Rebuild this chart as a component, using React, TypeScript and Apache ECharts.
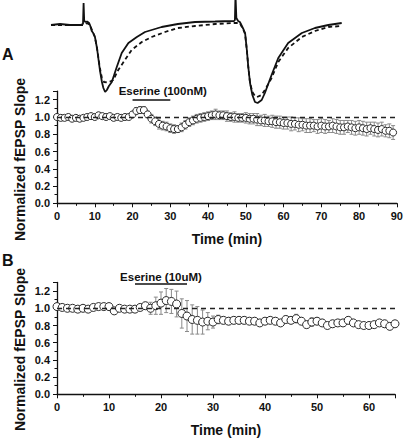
import React, { useEffect, useRef } from "react";
import * as echarts from "echarts";

// ---- Sample fEPSP traces (time in ms-like units, amplitude in mV-like units)
const traceControl: number[][] = [
  [0, 0.0], [3.1, 0.01], [6.5, 0.0], [10.0, 0.0], [11.0, 0.01], [11.2, 0.22], [11.4, 0.05],
  [11.7, 0.03], [12.4, 0.035], [13.1, 0.02], [13.4, 0.0], [14.0, -0.06], [14.5, -0.08],
  [15.1, -0.12], [15.8, -0.23], [16.8, -0.45], [17.5, -0.57], [18.0, -0.63], [18.6, -0.67],
  [19.2, -0.65], [19.9, -0.61], [20.9, -0.57], [22.6, -0.42], [24.3, -0.28], [26.6, -0.18],
  [29.5, -0.12], [32.3, -0.07], [38.0, -0.02], [43.6, 0.01], [49.5, 0.03], [56.4, 0.035],
  [62.9, 0.04], [63.2, 0.05], [63.4, 0.3], [63.7, 0.07], [64.3, 0.04], [64.9, 0.03],
  [66.1, -0.04], [66.7, -0.08], [67.3, -0.25], [67.8, -0.42], [68.4, -0.58], [69.2, -0.7],
  [70.1, -0.77], [71.0, -0.78], [72.4, -0.75], [73.5, -0.68], [75.8, -0.5], [78.1, -0.33],
  [81.5, -0.18], [86.2, -0.08], [90.7, -0.03], [95.3, 0.0], [99.9, 0.02],
];
const traceEserine: number[][] = [
  [0, 0.0], [11.0, 0.0], [12.4, 0.02], [13.4, 0.0], [14.5, -0.08], [15.1, -0.12],
  [15.8, -0.23], [16.8, -0.43], [17.5, -0.53], [18.2, -0.57], [19.2, -0.575], [20.3, -0.565],
  [21.4, -0.55], [23.1, -0.45], [25.4, -0.35], [27.7, -0.25], [31.2, -0.17], [34.6, -0.12],
  [39.2, -0.07], [43.6, -0.03], [49.5, -0.01], [56.4, 0.01], [62.9, 0.02], [64.9, 0.02],
  [66.1, -0.05], [66.7, -0.09], [67.3, -0.25], [67.8, -0.42], [68.4, -0.58], [69.2, -0.67],
  [70.1, -0.71], [70.8, -0.72], [72.4, -0.7], [73.5, -0.65], [75.8, -0.53], [78.1, -0.37],
  [81.5, -0.23], [86.2, -0.12], [90.7, -0.06], [95.3, -0.02], [99.9, -0.01],
];

// ---- Panel A: Eserine 100 nM (one point per minute)
const slopeA: number[] = [
  1.0, 0.99, 0.99, 1.0, 0.98, 0.99, 0.98, 0.99, 1.0, 1.01,
  1.0, 1.02, 1.01, 1.0, 1.01, 0.99, 1.0, 0.99, 1.0, 1.0,
  1.03, 1.07, 1.08, 1.08, 1.03, 0.98, 0.95, 0.92, 0.9, 0.89,
  0.87, 0.86, 0.86, 0.88, 0.91, 0.94, 0.96, 0.98, 0.99, 1.0,
  1.01, 1.02, 1.03, 1.02, 1.02, 1.01, 1.0, 1.0, 0.99, 0.99,
  0.99, 0.98, 0.98, 0.97, 0.96, 0.96, 0.95, 0.95, 0.94, 0.94,
  0.93, 0.93, 0.92, 0.92, 0.91, 0.91, 0.9, 0.9, 0.9, 0.89,
  0.9, 0.89, 0.89, 0.9, 0.89, 0.88, 0.88, 0.89, 0.88, 0.87,
  0.88, 0.87, 0.86, 0.87, 0.86, 0.85, 0.86, 0.84, 0.84, 0.82,
];
const errA: number[] = [
  0.02, 0.02, 0.02, 0.02, 0.03, 0.02, 0.02, 0.02, 0.03, 0.02,
  0.02, 0.03, 0.02, 0.02, 0.02, 0.02, 0.03, 0.02, 0.02, 0.02,
  0.03, 0.04, 0.04, 0.04, 0.04, 0.05, 0.05, 0.06, 0.05, 0.05,
  0.05, 0.05, 0.04, 0.05, 0.05, 0.05, 0.05, 0.05, 0.05, 0.05,
  0.05, 0.05, 0.06, 0.05, 0.05, 0.06, 0.05, 0.06, 0.05, 0.05,
  0.06, 0.06, 0.06, 0.07, 0.06, 0.07, 0.06, 0.07, 0.07, 0.07,
  0.07, 0.07, 0.08, 0.07, 0.08, 0.07, 0.08, 0.08, 0.07, 0.08,
  0.08, 0.08, 0.07, 0.08, 0.08, 0.08, 0.08, 0.07, 0.08, 0.08,
  0.08, 0.08, 0.08, 0.07, 0.08, 0.08, 0.08, 0.07, 0.08, 0.08,
];

// ---- Panel B: Eserine 10 uM
const slopeB: number[] = [
  1.02, 1.01, 1.0, 1.0, 0.99, 1.0, 0.99, 1.01, 1.02, 1.02,
  1.02, 0.97, 1.0, 0.99, 0.99, 0.99, 1.01, 1.03, 1.0, 1.03,
  1.06, 1.09, 1.08, 1.05, 0.94, 0.91, 0.87, 0.86, 0.84, 0.85,
  0.84, 0.87, 0.86, 0.85, 0.86, 0.86, 0.86, 0.85, 0.85, 0.83,
  0.85, 0.86, 0.85, 0.83, 0.87, 0.86, 0.88, 0.85, 0.81, 0.84,
  0.85, 0.83, 0.8, 0.82, 0.83, 0.83, 0.86, 0.83, 0.81, 0.8,
  0.8, 0.81, 0.83, 0.82, 0.79, 0.82,
];
const errB: number[] = [
  0.02, 0.02, 0.02, 0.02, 0.02, 0.02, 0.02, 0.02, 0.02, 0.02,
  0.02, 0.02, 0.02, 0.02, 0.02, 0.02, 0.03, 0.04, 0.07, 0.1,
  0.13, 0.14, 0.14, 0.15, 0.17, 0.18, 0.17, 0.16, 0.14, 0.1,
  0.07, 0.05, 0.04, 0.04, 0.04, 0.04, 0.04, 0.03, 0.04, 0.03,
  0.03, 0.03, 0.04, 0.03, 0.04, 0.03, 0.05, 0.04, 0.04, 0.05,
  0.04, 0.04, 0.03, 0.04, 0.03, 0.03, 0.04, 0.03, 0.03, 0.03,
  0.03, 0.03, 0.03, 0.04, 0.03, 0.03,
];

// ---- Annotations
const drugA = { label: "Eserine (100nM)", start: 20, end: 30, level: 1.2, labelAt: 28 };
const drugB = { label: "Eserine (10uM)", start: 15, end: 25, level: 1.28, labelAt: 20 };
const baselineLevel = 1.0;
const yTickLabels = ["0.0", "0.2", "0.4", "0.6", "0.8", "1.0", "1.2"];

const FONT = '"Liberation Sans", Arial, Helvetica, sans-serif';

function errorRender(params: any, api: any) {
  const x = api.value(0);
  const y = api.value(1);
  const e = api.value(2);
  const top = api.coord([x, y + e]);
  const bot = api.coord([x, y - e]);
  const half = 2;
  const style = { stroke: "#8a8a8a", lineWidth: 1 };
  return {
    type: "group",
    children: [
      { type: "line", shape: { x1: top[0], y1: top[1], x2: bot[0], y2: bot[1] }, style },
      { type: "line", shape: { x1: top[0] - half, y1: top[1], x2: top[0] + half, y2: top[1] }, style },
      { type: "line", shape: { x1: bot[0] - half, y1: bot[1], x2: bot[0] + half, y2: bot[1] }, style },
    ],
  };
}

function xAxisFor(gridIndex: number, max: number, nameGap: number) {
  return {
    type: "value",
    gridIndex,
    min: 0,
    max,
    interval: 10,
    name: "Time (min)",
    nameLocation: "middle",
    nameGap,
    nameTextStyle: { fontFamily: FONT, fontWeight: "bold", fontSize: 14, color: "#111" },
    axisLine: { show: true, onZero: false, lineStyle: { color: "#111", width: 1.3 } },
    axisTick: { show: true, inside: false, length: 4, lineStyle: { color: "#111", width: 1 } },
    minorTick: { show: true, splitNumber: 2, length: 2.5, lineStyle: { color: "#111", width: 1 } },
    splitLine: { show: false },
    axisLabel: {
      fontFamily: FONT,
      fontWeight: "bold",
      fontSize: 11,
      color: "#111",
      margin: 7,
      formatter: (v: number) => (v % 10 === 0 ? String(v) : ""),
    },
  };
}

function yAxisFor(gridIndex: number) {
  return {
    type: "value",
    gridIndex,
    min: 0,
    max: 1.3,
    interval: 0.2,
    axisLine: { show: true, onZero: false, lineStyle: { color: "#111", width: 1.3 } },
    axisTick: { show: true, inside: false, length: 4, lineStyle: { color: "#111", width: 1 } },
    minorTick: { show: true, splitNumber: 2, length: 2.5, lineStyle: { color: "#111", width: 1 } },
    splitLine: { show: false },
    axisLabel: {
      fontFamily: FONT,
      fontWeight: "bold",
      fontSize: 11,
      color: "#111",
      margin: 7,
      formatter: (v: number) => {
        const idx = Math.round(v / 0.2);
        return Math.abs(idx * 0.2 - v) < 1e-6 && idx < yTickLabels.length ? yTickLabels[idx] : "";
      },
    },
  };
}

function panelSeries(
  idx: number,
  slope: number[],
  err: number[],
  drug: { label: string; start: number; end: number; level: number; labelAt: number },
  symbolSize: number,
  labelOffset: number
) {
  const pts = slope.map((v, i) => [i, v]);
  const bars = slope.map((v, i) => [i, v, err[i]]);
  return [
    {
      type: "custom",
      xAxisIndex: idx,
      yAxisIndex: idx,
      renderItem: errorRender,
      data: bars,
      z: 2,
      silent: true,
      markLine: {
        silent: true,
        symbol: ["none", "none"],
        label: { show: false },
        lineStyle: { color: "#222", width: 1.4, type: [5, 4] },
        data: [{ yAxis: baselineLevel }],
      },
    },
    {
      type: "scatter",
      xAxisIndex: idx,
      yAxisIndex: idx,
      data: pts,
      symbol: "circle",
      symbolSize,
      z: 3,
      itemStyle: { color: "#fff", borderColor: "#2a2a2a", borderWidth: 1, opacity: 1 },
      markLine: {
        silent: true,
        symbol: ["none", "none"],
        label: { show: false },
        lineStyle: { color: "#111", width: 1.6, type: "solid" },
        data: [[{ coord: [drug.start, drug.level] }, { coord: [drug.end, drug.level] }]],
      },
      markPoint: {
        silent: true,
        symbol: "circle",
        symbolSize: 0,
        data: [{ coord: [drug.labelAt, drug.level] }],
        label: {
          show: true,
          position: "inside",
          offset: [0, labelOffset],
          formatter: drug.label,
          fontFamily: FONT,
          fontWeight: "bold",
          fontSize: 11.5,
          color: "#111",
        },
      },
    },
  ];
}

export default function App() {
  const ref = useRef<HTMLDivElement>(null);
  useEffect(() => {
    if (!ref.current) return;
    const chart = echarts.init(ref.current, undefined, { renderer: "svg" });
    const option: any = {
      animation: false,
      backgroundColor: "#ffffff",
      grid: [
        { left: 57, top: 91.1, width: 342, height: 112.2 },
        { left: 57, top: 282.5, width: 338, height: 111.8 },
        { left: 51, top: 0, width: 291, height: 105 },
      ],
      xAxis: [
        xAxisFor(0, 90, 29),
        xAxisFor(1, 65, 29),
        { type: "value", gridIndex: 2, min: 0, max: 100, show: false },
      ],
      yAxis: [
        yAxisFor(0),
        yAxisFor(1),
        { type: "value", gridIndex: 2, min: -0.8, max: 0.25, show: false },
      ],
      graphic: [
        {
          type: "text",
          left: 2,
          top: 46,
          style: { text: "A", font: `bold 16px ${FONT}`, fill: "#111" },
        },
        {
          type: "text",
          left: 2,
          top: 252,
          style: { text: "B", font: `bold 16px ${FONT}`, fill: "#111" },
        },
        {
          type: "text",
          x: 20,
          y: 159.5,
          rotation: Math.PI / 2,
          style: {
            text: "Normalized fEPSP Slope",
            font: `bold 14px ${FONT}`,
            fill: "#111",
            align: "center",
            verticalAlign: "middle",
          },
        },
        {
          type: "text",
          x: 20,
          y: 349.5,
          rotation: Math.PI / 2,
          style: {
            text: "Normalized fEPSP Slope",
            font: `bold 14px ${FONT}`,
            fill: "#111",
            align: "center",
            verticalAlign: "middle",
          },
        },
      ],
      series: [
        {
          type: "line",
          xAxisIndex: 2,
          yAxisIndex: 2,
          data: traceEserine,
          showSymbol: false,
          symbol: "none",
          silent: true,
          z: 4,
          lineStyle: { color: "#111", width: 1.8, type: [4, 3] },
        },
        {
          type: "line",
          xAxisIndex: 2,
          yAxisIndex: 2,
          data: traceControl,
          showSymbol: false,
          symbol: "none",
          silent: true,
          z: 5,
          lineStyle: { color: "#111", width: 1.8 },
        },
        ...panelSeries(0, slopeA, errA, drugA, 7, -9),
        ...panelSeries(1, slopeB, errB, drugB, 8, -7.5),
      ],
    };
    chart.setOption(option);
    return () => chart.dispose();
  }, []);
  return (
    <div
      ref={ref}
      style={{ position: "absolute", left: 0, top: 0, width: 406, height: 440, background: "#fff" }}
    />
  );
}
